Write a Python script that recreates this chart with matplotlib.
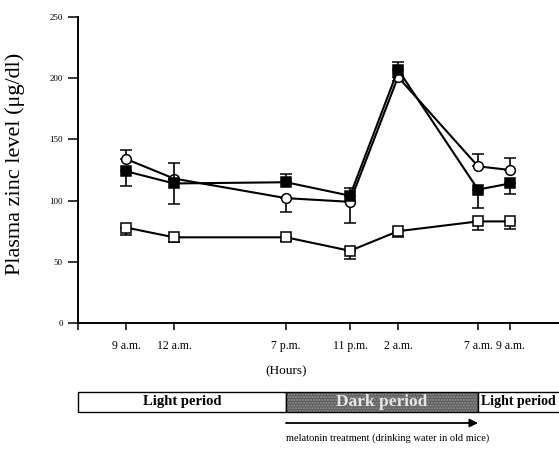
import numpy as np
import matplotlib
matplotlib.use("Agg")
import matplotlib.pyplot as plt
from matplotlib import transforms
from matplotlib.patches import Rectangle

plt.rcParams['font.family'] = ['Liberation Serif', 'DejaVu Serif']

# hours after 9 a.m.
hours = [0, 3, 10, 14, 17, 22, 24]
tick_labels = ['9 a.m.', '12 a.m.', '7 p.m.', '11 p.m.', '2 a.m.', '7 a.m.', '9 a.m.']

circle = [134, 118, 102, 99, 201, 128, 125]
circle_lo = [0, 0, 11, 17, 3, 0, 0]
circle_hi = [7, 0, 0, 0, 0, 10, 10]

filled = [124, 114, 115, 104, 207, 109, 114]
filled_lo = [12, 17, 0, 0, 0, 15, 9]
filled_hi = [0, 17, 7, 6, 6, 0, 0]

open_sq = [78, 70, 70, 59, 75, 83, 83]
open_lo = [6, 4, 3, 7, 5, 7, 6]
open_hi = [0, 0, 0, 0, 0, 0, 0]

fig = plt.figure(figsize=(5.59, 4.5), dpi=100)
ax = fig.add_axes([78 / 559, 1 - 323 / 450, 1 - 78 / 559, 306 / 450])

err_kw = dict(color='black', lw=1.5, capsize=4, capthick=1.3, elinewidth=1.2)
ax.errorbar(hours, open_sq, yerr=[open_lo, open_hi], marker='s', ms=7,
            mfc='white', mec='black', mew=1.1, zorder=3, **err_kw)
ax.errorbar(hours, circle, yerr=[circle_lo, circle_hi], marker='o', ms=7,
            mfc='white', mec='black', mew=1.1, zorder=4, **err_kw)
ax.errorbar(hours, filled, yerr=[filled_lo, filled_hi], marker='s', ms=7,
            mfc='black', mec='black', mew=1.1, zorder=5, **err_kw)

ax.set_xlim(-3, 27.06)
ax.set_ylim(0, 250)
ax.set_xticks([-3] + hours)
ax.set_xticklabels([''] + tick_labels, fontsize=8.5)
ax.set_yticks([0, 50, 100, 150, 200, 250])
ax.set_yticklabels(['0', '50', '100', '150', '200', '250'], fontsize=6.5)
ax.tick_params(axis='y', direction='out', length=7, width=1.1, pad=4)
ax.tick_params(axis='x', direction='out', length=5, width=1.1, pad=7)
for s in ['top', 'right']:
    ax.spines[s].set_visible(False)
for s in ['left', 'bottom']:
    ax.spines[s].set_linewidth(1.4)

ax.set_ylabel('Plasma zinc level (\u03bcg/dl)', fontsize=16)
ax.yaxis.set_label_coords(-0.11, 0.52)

# period bar below the axis
trans = transforms.blended_transform_factory(ax.transData, fig.transFigure)
fig.text(286 / 559, 1 - 371 / 450, '(Hours)', ha='center', va='center', fontsize=9.5)

y0 = 1 - 412 / 450
h = 20 / 450
ax.add_patch(Rectangle((-3, y0), 13, h, transform=trans, clip_on=False,
                       facecolor='white', edgecolor='black', lw=1.0))
ax.add_patch(Rectangle((10, y0), 12, h, transform=trans, clip_on=False,
                       facecolor='0.35', edgecolor='0.6', hatch='......', lw=0))
ax.add_patch(Rectangle((10, y0), 12, h, transform=trans, clip_on=False,
                       facecolor='none', edgecolor='black', lw=1.0))
ax.add_patch(Rectangle((22, y0), 6, h, transform=trans, clip_on=False,
                       facecolor='white', edgecolor='black', lw=1.0))

ax.text(3.5, y0 + h / 2, 'Light period', transform=trans, ha='center', va='center',
        fontsize=10.5, fontweight='bold')
ax.text(16, y0 + h / 2, 'Dark period', transform=trans, ha='center', va='center',
        fontsize=12.5, fontweight='bold', color='0.9')
ax.text(22.2, y0 + h / 2, 'Light period', transform=trans, ha='left', va='center',
        fontsize=10, fontweight='bold')

ya = 1 - 423 / 450
ax.annotate('', xy=(22, ya), xytext=(10, ya), xycoords=trans, textcoords=trans,
            arrowprops=dict(arrowstyle='-|>', color='black', lw=1.3,
                            mutation_scale=12, shrinkA=0, shrinkB=0))
ax.text(10, 1 - 438 / 450, 'melatonin treatment (drinking water in old mice)',
        transform=trans, ha='left', va='center', fontsize=7.5)

fig.savefig('out.png', dpi=100)
